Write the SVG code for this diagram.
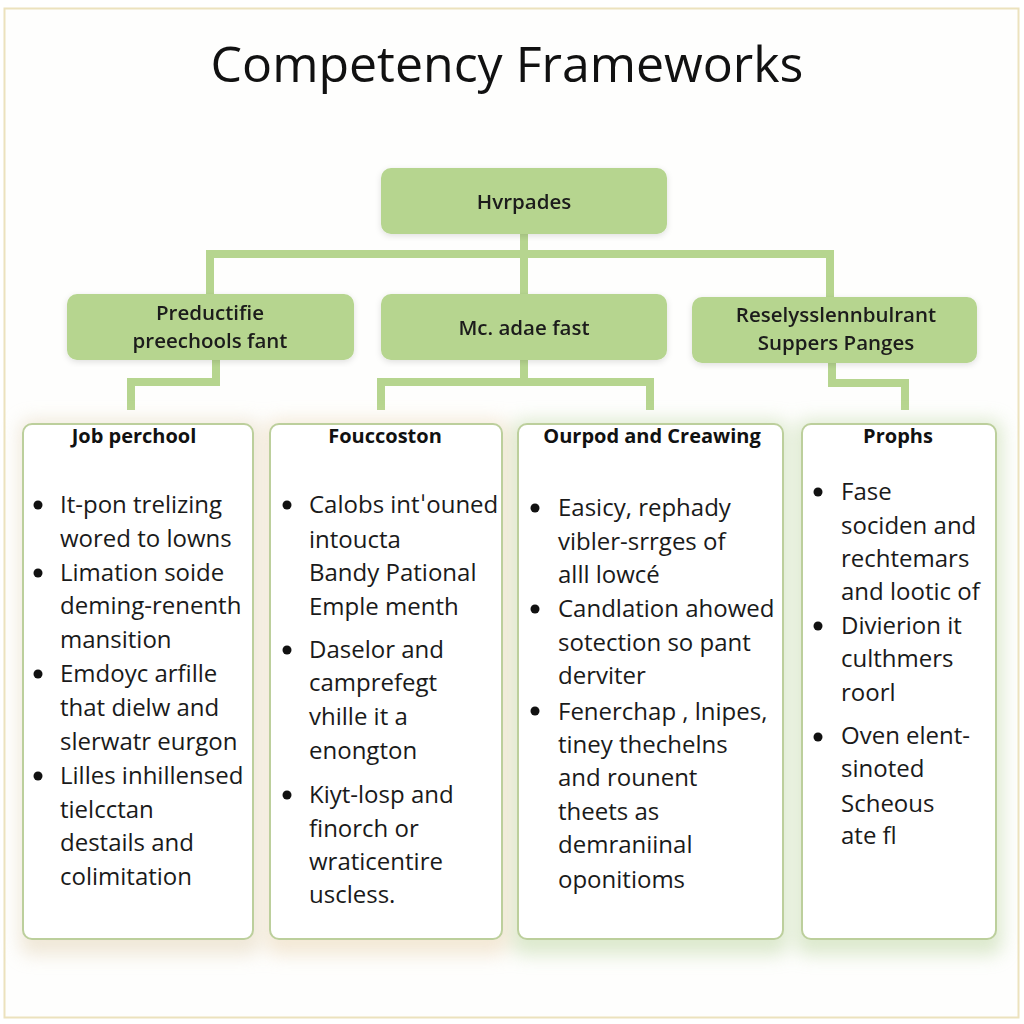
<svg xmlns="http://www.w3.org/2000/svg" width="1024" height="1024" viewBox="0 0 1024 1024">
<defs>
<style>
.title{font-family:"Open Sans","DejaVu Sans",sans-serif;font-size:50px;fill:#111;text-anchor:middle}
.box{fill:#b6d58f}
.btxt{font-family:"Open Sans","DejaVu Sans",sans-serif;font-size:20.5px;font-weight:600;fill:#1a1a1a;text-anchor:middle}
.card{fill:#fff;stroke:#bccf9c;stroke-width:2}
.ctitle{font-family:"Open Sans","DejaVu Sans",sans-serif;font-size:20px;font-weight:700;fill:#111;text-anchor:middle}
.body{font-family:"Open Sans","DejaVu Sans",sans-serif;font-size:24px;fill:#1a1a1a}
.dot{fill:#111}
.conn{fill:none;stroke:#b6d58f;stroke-width:8;stroke-linejoin:miter}
</style>
<filter id="blur" x="-20%" y="-20%" width="140%" height="140%"><feGaussianBlur stdDeviation="9"/></filter>
<filter id="sh" x="-10%" y="-10%" width="120%" height="120%"><feDropShadow dx="0" dy="2" stdDeviation="3" flood-color="#000" flood-opacity="0.12"/></filter>
</defs>
<rect x="0" y="0" width="1024" height="1024" fill="#fff"/>
<rect x="4.5" y="8.5" width="1014" height="1009" fill="#fefefd" stroke="#ece2bd" stroke-width="2"/>
<text class="title" x="507" y="82">Competency Frameworks</text>

<g id="connectors">
<path class="conn" d="M524 233 V254 M210 254 H830 M210 250 V296 M524 254 V296 M830 250 V298"/>
<path class="conn" d="M216 360 V382 H131 V410"/>
<path class="conn" d="M524 360 V382 M381 382 H650 M381 378 V410 M650 378 V410"/>
<path class="conn" d="M832 362 V383 H905 V410"/>
</g>

<g id="n-top" filter="url(#sh)">
<rect class="box" x="381" y="168" width="286" height="66" rx="10"/>
<text class="btxt" x="524" y="209">Hvrpades</text>
</g>
<g id="n-left" filter="url(#sh)">
<rect class="box" x="67" y="294" width="287" height="66" rx="10"/>
<text class="btxt" x="210" y="320">Preductifie</text>
<text class="btxt" x="210" y="348">preechools fant</text>
</g>
<g id="n-mid" filter="url(#sh)">
<rect class="box" x="381" y="294" width="286" height="66" rx="10"/>
<text class="btxt" x="524" y="335">Mc. adae fast</text>
</g>
<g id="n-right" filter="url(#sh)">
<rect class="box" x="692" y="297" width="285" height="66" rx="10"/>
<text class="btxt" x="836" y="322">Reselysslennbulrant</text>
<text class="btxt" x="836" y="350">Suppers Panges</text>
</g>

<g id="glows" filter="url(#blur)" opacity="0.6">
<rect x="20" y="420" width="240" height="535" rx="10" fill="#e6d9c0"/>
<rect x="266" y="420" width="242" height="535" rx="10" fill="#ecdabc"/>
<rect x="512" y="420" width="276" height="535" rx="10" fill="#c6dbae"/>
<rect x="796" y="420" width="206" height="535" rx="10" fill="#c6dbae"/>
</g>

<g id="card1">
<rect class="card" x="23" y="424" width="230" height="515" rx="9"/>
<text class="ctitle" x="134" y="443">Job perchool</text>
<circle class="dot" cx="38" cy="505" r="4.5"/>
<circle class="dot" cx="38" cy="573" r="4.5"/>
<circle class="dot" cx="38" cy="674" r="4.5"/>
<circle class="dot" cx="38" cy="776" r="4.5"/>
<text class="body" x="60" y="513">It-pon trelizing</text>
<text class="body" x="60" y="547">wored to lowns</text>
<text class="body" x="60" y="581">Limation soide</text>
<text class="body" x="60" y="614">deming-renenth</text>
<text class="body" x="60" y="648">mansition</text>
<text class="body" x="60" y="682">Emdoyc arfille</text>
<text class="body" x="60" y="716">that dielw and</text>
<text class="body" x="60" y="750">slerwatr eurgon</text>
<text class="body" x="60" y="784">Lilles inhillensed</text>
<text class="body" x="60" y="818">tielcctan</text>
<text class="body" x="60" y="851">destails and</text>
<text class="body" x="60" y="885">colimitation</text>
</g>

<g id="card2">
<rect class="card" x="270" y="424" width="232" height="515" rx="9"/>
<text class="ctitle" x="385" y="443">Foucсoston</text>
<circle class="dot" cx="287" cy="505" r="4.5"/>
<circle class="dot" cx="287" cy="650" r="4.5"/>
<circle class="dot" cx="287" cy="795" r="4.5"/>
<text class="body" x="309" y="513">Calobs intˈouned</text>
<text class="body" x="309" y="548">intoucta</text>
<text class="body" x="309" y="581">Bandy Pational</text>
<text class="body" x="309" y="615">Emple menth</text>
<text class="body" x="309" y="658">Daselor and</text>
<text class="body" x="309" y="691">camprefegt</text>
<text class="body" x="309" y="725">vhille it a</text>
<text class="body" x="309" y="759">enongton</text>
<text class="body" x="309" y="803">Kiyt-losp and</text>
<text class="body" x="309" y="837">finorch or</text>
<text class="body" x="309" y="870">wraticentire</text>
<text class="body" x="309" y="903">uscless.</text>
</g>

<g id="card3">
<rect class="card" x="518" y="424" width="265" height="515" rx="9"/>
<text class="ctitle" x="652" y="443">Ourpod and Creawing</text>
<circle class="dot" cx="535" cy="508" r="4.5"/>
<circle class="dot" cx="535" cy="609" r="4.5"/>
<circle class="dot" cx="535" cy="711" r="4.5"/>
<text class="body" x="558" y="516">Easicy, rephady</text>
<text class="body" x="558" y="550">vibler-srrges of</text>
<text class="body" x="558" y="583">alll lowcé</text>
<text class="body" x="558" y="617">Candlation ahowed</text>
<text class="body" x="558" y="651">sotection so pant</text>
<text class="body" x="558" y="684">derviter</text>
<text class="body" x="558" y="720">Fenerchap , lnipes,</text>
<text class="body" x="558" y="753">tiney thechelns</text>
<text class="body" x="558" y="786">and rounent</text>
<text class="body" x="558" y="820">theets as</text>
<text class="body" x="558" y="853">demraniinal</text>
<text class="body" x="558" y="888">oponitioms</text>
</g>

<g id="card4">
<rect class="card" x="802" y="424" width="194" height="515" rx="9"/>
<text class="ctitle" x="898" y="443">Prophs</text>
<circle class="dot" cx="818" cy="492" r="4.5"/>
<circle class="dot" cx="818" cy="626" r="4.5"/>
<circle class="dot" cx="818" cy="737" r="4.5"/>
<text class="body" x="841" y="500">Fase</text>
<text class="body" x="841" y="534">sociden and</text>
<text class="body" x="841" y="567">rechtemars</text>
<text class="body" x="841" y="600">and lootic of</text>
<text class="body" x="841" y="634">Divierion it</text>
<text class="body" x="841" y="667">culthmers</text>
<text class="body" x="841" y="701">roorl</text>
<text class="body" x="841" y="744">Oven elent-</text>
<text class="body" x="841" y="777">sinoted</text>
<text class="body" x="841" y="812">Scheous</text>
<text class="body" x="841" y="844">ate fl</text>
</g>
</svg>
